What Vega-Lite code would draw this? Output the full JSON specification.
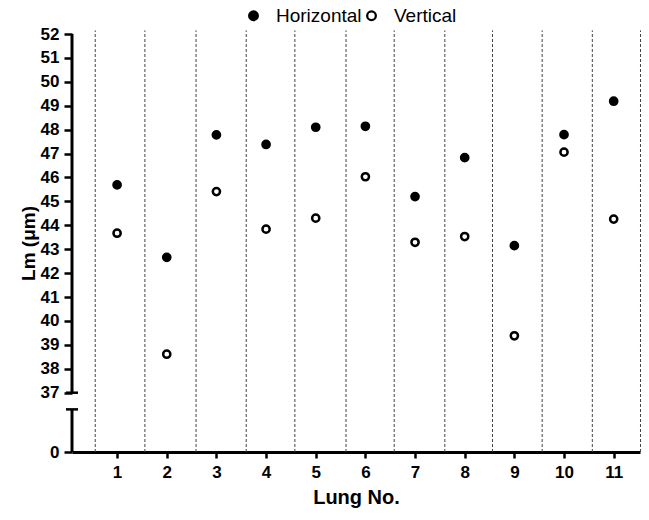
{
  "$schema": "https://vega.github.io/schema/vega-lite/v6.json",
  "width": 568,
  "height": 418,
  "autosize": {"type": "none"},
  "padding": {"left": 72, "top": 34, "right": 9, "bottom": 68},
  "background": "white",
  "config": {
    "view": {"stroke": null},
    "font": "Liberation Sans",
    "axisX": {
      "grid": false, "domainColor": "black", "domainWidth": 3, "tickColor": "black", "tickWidth": 2.5, "tickSize": 6,
      "labelFontWeight": "bold", "labelFontSize": 17, "labelColor": "black", "labelPadding": 6, "labelFlush": false,
      "titleFontWeight": "bold", "titleFontSize": 20, "titleColor": "black", "titlePadding": 7
    },
    "axisY": {
      "grid": false, "domain": false, "tickColor": "black", "tickWidth": 2.5, "tickSize": 8,
      "labelFontWeight": "bold", "labelFontSize": 17, "labelColor": "black", "labelPadding": 5, "labelFlush": false, "labelOverlap": false,
      "titleFontWeight": "bold", "titleFontSize": 19, "titleColor": "black", "titlePadding": 2
    }
  },
  "datasets": {
    "lm": [
      {"lung": 1, "orientation": "Horizontal", "lm": 45.69},
      {"lung": 1, "orientation": "Vertical", "lm": 43.67},
      {"lung": 2, "orientation": "Horizontal", "lm": 42.66},
      {"lung": 2, "orientation": "Vertical", "lm": 38.61},
      {"lung": 3, "orientation": "Horizontal", "lm": 47.78},
      {"lung": 3, "orientation": "Vertical", "lm": 45.41},
      {"lung": 4, "orientation": "Horizontal", "lm": 47.38},
      {"lung": 4, "orientation": "Vertical", "lm": 43.84},
      {"lung": 5, "orientation": "Horizontal", "lm": 48.1},
      {"lung": 5, "orientation": "Vertical", "lm": 44.3},
      {"lung": 6, "orientation": "Horizontal", "lm": 48.14},
      {"lung": 6, "orientation": "Vertical", "lm": 46.03},
      {"lung": 7, "orientation": "Horizontal", "lm": 45.2},
      {"lung": 7, "orientation": "Vertical", "lm": 43.29},
      {"lung": 8, "orientation": "Horizontal", "lm": 46.83},
      {"lung": 8, "orientation": "Vertical", "lm": 43.53},
      {"lung": 9, "orientation": "Horizontal", "lm": 43.15},
      {"lung": 9, "orientation": "Vertical", "lm": 39.38},
      {"lung": 10, "orientation": "Horizontal", "lm": 47.79},
      {"lung": 10, "orientation": "Vertical", "lm": 47.06},
      {"lung": 11, "orientation": "Horizontal", "lm": 49.19},
      {"lung": 11, "orientation": "Vertical", "lm": 44.26}
    ],
    "separators": [
      {"pos": 0.56}, {"pos": 1.56}, {"pos": 2.59}, {"pos": 3.6}, {"pos": 4.58}, {"pos": 5.61},
      {"pos": 6.58}, {"pos": 7.6}, {"pos": 8.56}, {"pos": 9.56}, {"pos": 10.57}, {"pos": 11.54}
    ],
    "segments": [{"from": 37, "to": 52}, {"from": 0, "to": 26.6}],
    "caps": [{"at": 37}, {"at": 26.6}]
  },
  "layer": [
    {
      "data": {"name": "separators"},
      "mark": {"type": "rule", "color": "#444444", "strokeWidth": 1, "strokeDash": [3, 2]},
      "encoding": {
        "x": {"field": "pos", "type": "quantitative", "scale": {"domain": [0.092, 11.53], "nice": false, "zero": false},
          "axis": {"title": "Lung No.", "values": [1, 2, 3, 4, 5, 6, 7, 8, 9, 10, 11], "format": "d"}},
        "y": {"datum": 0, "type": "quantitative", "scale": {"domain": [0, 37, 52], "range": [418, 358.7, 0], "nice": false, "zero": false},
          "axis": {"title": "Lm (μm)", "values": [0, 37, 38, 39, 40, 41, 42, 43, 44, 45, 46, 47, 48, 49, 50, 51, 52], "format": "d"}},
        "y2": {"datum": 52.15}
      }
    },
    {
      "data": {"name": "segments"},
      "mark": {"type": "rule", "color": "black", "strokeWidth": 3},
      "encoding": {
        "x": {"datum": 0.092, "type": "quantitative", "scale": {"domain": [0.092, 11.53], "nice": false, "zero": false},
          "axis": {"title": "Lung No.", "values": [1, 2, 3, 4, 5, 6, 7, 8, 9, 10, 11], "format": "d"}},
        "y": {"field": "from", "type": "quantitative", "scale": {"domain": [0, 37, 52], "range": [418, 358.7, 0], "nice": false, "zero": false},
          "axis": {"title": "Lm (μm)", "values": [0, 37, 38, 39, 40, 41, 42, 43, 44, 45, 46, 47, 48, 49, 50, 51, 52], "format": "d"}},
        "y2": {"field": "to"}
      }
    },
    {
      "data": {"name": "caps"},
      "mark": {"type": "tick", "color": "black", "orient": "horizontal", "size": 12, "thickness": 2.5, "opacity": 1},
      "encoding": {
        "x": {"datum": 0.092, "type": "quantitative", "scale": {"domain": [0.092, 11.53], "nice": false, "zero": false},
          "axis": {"title": "Lung No.", "values": [1, 2, 3, 4, 5, 6, 7, 8, 9, 10, 11], "format": "d"}},
        "y": {"field": "at", "type": "quantitative", "scale": {"domain": [0, 37, 52], "range": [418, 358.7, 0], "nice": false, "zero": false},
          "axis": {"title": "Lm (μm)", "values": [0, 37, 38, 39, 40, 41, 42, 43, 44, 45, 46, 47, 48, 49, 50, 51, 52], "format": "d"}}
      }
    },
    {
      "data": {"name": "lm"},
      "mark": {"type": "point", "shape": "circle", "filled": true, "stroke": "black", "strokeWidth": 2.5, "size": 52, "opacity": 1},
      "encoding": {
        "x": {"field": "lung", "type": "quantitative", "scale": {"domain": [0.092, 11.53], "nice": false, "zero": false},
          "axis": {"title": "Lung No.", "values": [1, 2, 3, 4, 5, 6, 7, 8, 9, 10, 11], "format": "d"}},
        "y": {"field": "lm", "type": "quantitative", "scale": {"domain": [0, 37, 52], "range": [418, 358.7, 0], "nice": false, "zero": false},
          "axis": {"title": "Lm (μm)", "values": [0, 37, 38, 39, 40, 41, 42, 43, 44, 45, 46, 47, 48, 49, 50, 51, 52], "format": "d"}},
        "fill": {
          "field": "orientation", "type": "nominal",
          "scale": {"domain": ["Horizontal", "Vertical"], "range": ["black", "white"]},
          "legend": {
            "title": null, "orient": "none", "legendX": 172, "legendY": -28, "direction": "horizontal", "padding": 0,
            "labelFontSize": 19, "labelColor": "black", "labelOffset": 13, "columnPadding": 0,
            "symbolType": "circle", "symbolSize": 75, "symbolStrokeColor": "black", "symbolStrokeWidth": 2.3
          }
        }
      }
    }
  ]
}
